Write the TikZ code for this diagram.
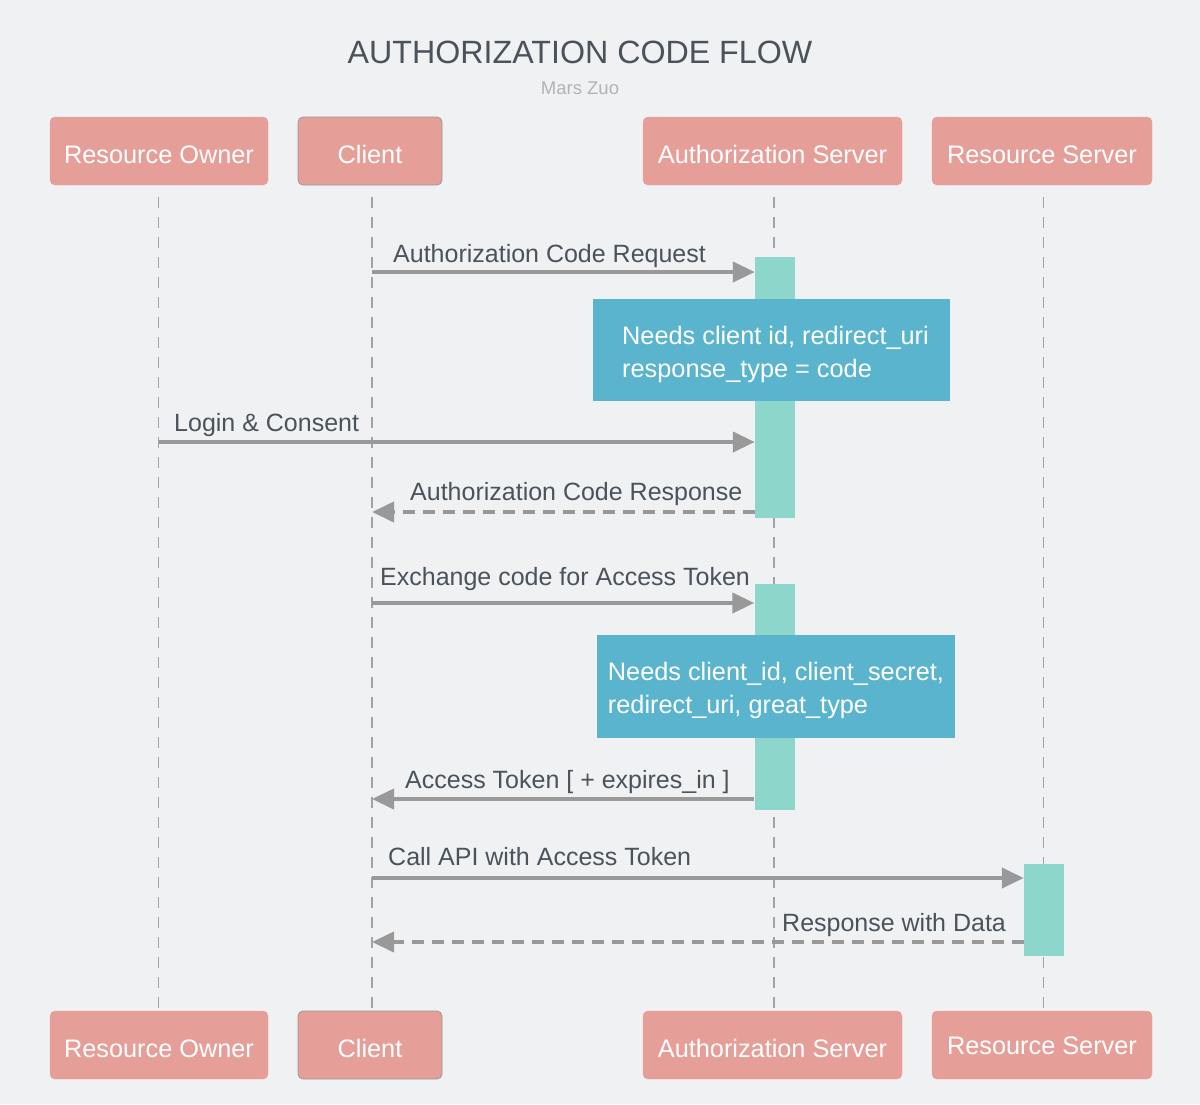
\documentclass[tikz,border=0pt]{standalone}
\usepackage{fontspec}
\setmainfont{Liberation Sans}
\usetikzlibrary{arrows.meta}
\definecolor{bg}{HTML}{F0F1F3}
\definecolor{actorfill}{HTML}{E69F98}
\definecolor{barfill}{HTML}{8DD6CB}
\definecolor{notefill}{HTML}{5AB4CE}
\definecolor{txt}{HTML}{4A535B}
\definecolor{sub}{HTML}{B0B4B9}
\definecolor{arrowc}{HTML}{999999}
\definecolor{lifec}{HTML}{A3A3A3}
\tikzset{
  actor/.style={fill=actorfill, draw=actorfill, rounded corners=5pt, minimum height=68pt, text=white, font=\fontsize{25.3}{28}\selectfont, inner sep=0pt, text height=24pt, text depth=0pt},
  clientbox/.style={actor, draw=black!40, line width=0.8pt},
  life/.style={draw=lifec, line width=1.5pt, dash pattern=on 11pt off 9pt},
  actbar/.style={fill=barfill, draw=none, minimum width=40pt, inner sep=0pt},
  note/.style={fill=notefill, draw=none, text=white, inner sep=0pt, font=\fontsize{25.3}{33}\selectfont},
  msg/.style={draw=arrowc, line width=4pt, -{Triangle[length=22pt,width=20pt]}},
  reply/.style={msg, dash pattern=on 12pt off 8pt},
  lbl/.style={text=txt, font=\fontsize{25}{28}\selectfont, inner sep=0pt, anchor=base west}
}
\begin{document}
\begin{tikzpicture}[x=1pt,y=-1pt]
\fill[bg] (0,0) rectangle (1200,1104);
\useasboundingbox (0,0) rectangle (1200,1104);
% title
\node[text=txt, font=\fontsize{32.2}{36}\selectfont, inner sep=0pt] (title) at (580,52) {AUTHORIZATION CODE FLOW};
\node[text=sub, font=\fontsize{18.5}{20}\selectfont, inner sep=0pt] (subt) at (580,88) {Mars Zuo};
% actors top
\node[actor, minimum width=218pt] (ro) at (159,151) {Resource Owner};
\node[clientbox, minimum width=144pt] (cl) at (370,151) {Client};
\node[actor, minimum width=259pt] (as) at (772.5,151) {Authorization Server};
\node[actor, minimum width=220pt] (rs) at (1042,151) {Resource Server};
% actors bottom
\node[actor, minimum width=218pt] (ro2) at (159,1045) {Resource Owner};
\node[clientbox, minimum width=144pt] (cl2) at (370,1045) {Client};
\node[actor, minimum width=259pt] (as2) at (772.5,1045) {Authorization Server};
\node[actor, minimum width=220pt, text height=19pt] (rs2) at (1042,1045) {Resource Server};
% lifelines
\coordinate (roT) at (158.5,197); \coordinate (roB) at (158.5,1008);
\coordinate (clT) at (372,197);   \coordinate (clB) at (372,1008);
\coordinate (asT) at (774,197);   \coordinate (asB) at (774,1008);
\coordinate (rsT) at (1043.5,197);\coordinate (rsB) at (1043.5,1008);
\draw[life] (roT) -- (roB);
\draw[life] (clT) -- (clB);
\draw[life] (asT) -- (asB);
\draw[life] (rsT) -- (rsB);
% activation bars
\node[actbar, minimum height=261pt] (b1) at (775,387.5) {};
\node[actbar, minimum height=226pt] (b2) at (774.5,697) {};
\node[actbar, minimum height=92pt] (b3) at (1044,910) {};
% notes
\node[note, minimum width=357pt, minimum height=102pt] (n1) at (771.5,350) {\hspace*{8pt}\raisebox{0pt}[\dimexpr\height+8pt\relax][\depth]{\begin{tabular}{@{}l@{}}Needs client id, redirect\_uri\\response\_type = code\end{tabular}}};
\node[note, minimum width=358pt, minimum height=103pt] (n2) at (776,686.5) {\raisebox{0pt}[\dimexpr\height+8pt\relax][\depth]{\begin{tabular}{@{}l@{}}Needs client\_id, client\_secret,\\redirect\_uri, great\_type\end{tabular}}};
% messages
\coordinate (m1) at (372,272);
\draw[msg] (m1) -- (m1 -| b1.west);
\node[lbl] (l1) at (393,262) {Authorization Code Request};
\coordinate (m2) at (158.5,442);
\draw[msg] (m2) -- (m2 -| b1.west);
\node[lbl] (l2) at (174,431) {Login \& Consent};
\coordinate (m3) at (372,512);
\draw[reply] (m3 -| b1.west) -- (m3);
\node[lbl] (l3) at (410,500) {Authorization Code Response};
\coordinate (m4) at (372,603);
\draw[msg] (m4) -- (m4 -| b2.west);
\node[lbl] (l4) at (380,585) {Exchange code for Access Token};
\coordinate (m5) at (372,799);
\draw[msg] (m5 -| b2.west) -- (m5);
\node[lbl] (l5) at (405,788) {Access Token [ + expires\_in ]};
\coordinate (m6) at (372,878);
\draw[msg] (m6) -- (m6 -| b3.west);
\node[lbl] (l6) at (388,865) {Call API with Access Token};
\coordinate (m7) at (372,942);
\draw[reply] (m7 -| b3.west) -- (m7);
\node[lbl] (l7) at (782,931) {Response with Data};
\end{tikzpicture}
\end{document}
